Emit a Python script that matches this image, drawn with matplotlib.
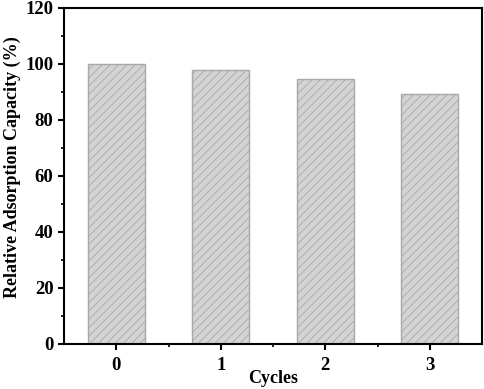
import matplotlib.pyplot as plt
import matplotlib.ticker as ticker

cycles = ['0', '1', '2', '3']
capacity = [100.0, 97.8, 94.6, 89.4]

plt.rcParams['font.family'] = 'Liberation Serif'
plt.rcParams['font.weight'] = 'bold'
plt.rcParams['hatch.color'] = '#a0a0a0'
plt.rcParams['hatch.linewidth'] = 0.6

fig = plt.figure(figsize=(4.84, 3.89), dpi=100)
ax = fig.add_axes([64 / 484, 45 / 389, 418 / 484, 336 / 389])

x = range(len(cycles))
ax.bar(x, capacity, width=0.55, color='#d4d4d4', edgecolor='#a8a8a8',
       linewidth=1.0, hatch='////')

ax.set_xlim(-0.5, 3.5)
ax.set_ylim(0, 120)
ax.set_xticks(list(x))
ax.set_xticklabels(cycles)
ax.xaxis.set_minor_locator(ticker.FixedLocator([0.5, 1.5, 2.5]))
ax.yaxis.set_major_locator(ticker.MultipleLocator(20))
ax.yaxis.set_minor_locator(ticker.MultipleLocator(10))

for s in ax.spines.values():
    s.set_linewidth(1.5)
ax.tick_params(which='major', direction='out', length=4, width=1.5, labelsize=13.5)
ax.tick_params(which='minor', direction='out', length=2.5, width=1.2)
ax.tick_params(axis='x', pad=5)

ax.set_xlabel('Cycles', fontsize=13, fontweight='bold')
ax.set_ylabel('Relative Adsorption Capacity (%)', fontsize=13, fontweight='bold')
ax.xaxis.set_label_coords(0.5, -0.076)
ax.yaxis.set_label_coords(-0.102, 0.525)

fig.savefig('out.png', dpi=100)
